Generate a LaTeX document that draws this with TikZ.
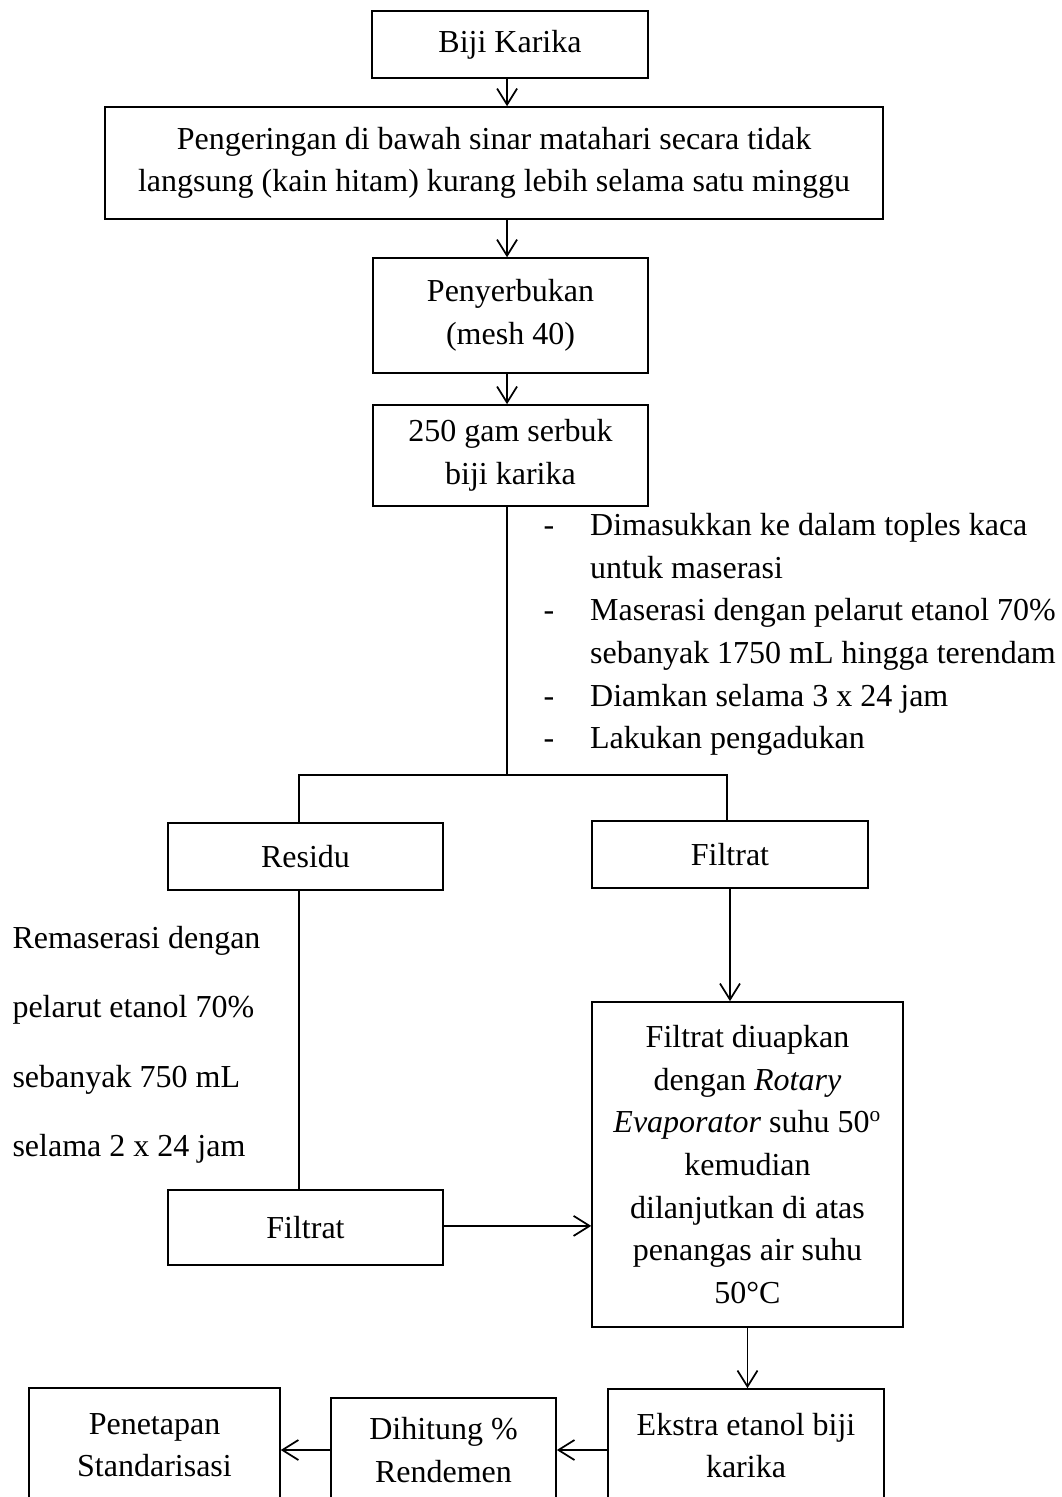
\documentclass[tikz,border=0pt]{standalone}
\usepackage{fontspec}
\setmainfont{Liberation Serif}
\usetikzlibrary{
  arrows.meta,
  positioning,
  calc
}
\tikzset{
blocktext/.style={
  align=center,
  font=\fontsize{12}{16}\selectfont
},
sidetext/.style={
  anchor=north west,
  inner sep=0pt
}
}

\begin{document}
\begin{tikzpicture}[
    % Satuan: 1 px gambar acuan
    x=0.375pt, y=-0.375pt,
    % Kotak proses
    blockbase/.style={
        rectangle,
        draw,
        line width=0.6pt,
        inner sep=2pt,
        blocktext
    },
    % Panah
    arrow/.style={
        -{Straight Barb[length=6pt,width=7.5pt]},
        line width=0.65pt
    },
    % Garis tanpa panah
    link/.style={
        line width=0.6pt
    },
]
\useasboundingbox (0,0) rectangle (1062,1497);
\clip (0,0) rectangle (1062,1497);

% ============================================================================
% Persiapan simplisia
% ============================================================================

\node[blockbase, minimum width=103.5pt, minimum height=25.1pt] (biji) at (510,44.5) {Biji Karika};

\node[blockbase, minimum width=291.75pt, minimum height=42pt] (pengeringan) at (494,163) {
    Pengeringan di bawah sinar matahari secara tidak\\
    langsung (kain hitam) kurang lebih selama satu minggu
};

\node[blockbase, minimum width=103.1pt, minimum height=43.1pt] (penyerbukan) at (510.5,315.5) {
    Penyerbukan\\
    (mesh 40)
};

\node[blockbase, minimum width=103.1pt, minimum height=37.9pt] (serbuk) at (510.5,455.5) {
    250 gam serbuk\\
    biji karika
};

% Keterangan maserasi
\node[sidetext, font=\fontsize{12}{16}\selectfont] (maserasi) at (543,505) {%
\begin{tabular}{@{}l@{\hspace{13.5pt}}l@{}}
- & Dimasukkan ke dalam toples kaca\\
  & untuk maserasi\\
- & Maserasi dengan pelarut etanol 70\%\\
  & sebanyak 1750 mL hingga terendam\\
- & Diamkan selama 3 x 24 jam\\
- & Lakukan pengadukan
\end{tabular}};

\coordinate (cabang) at (507,775);

% ============================================================================
% Residu dan filtrat
% ============================================================================

\node[blockbase, minimum width=103.1pt, minimum height=25.1pt] (residu) at (305.5,856.5) {Residu};

\node[blockbase, minimum width=103.5pt, minimum height=25.1pt] (filtrat) at (730,854.5) {Filtrat};

% Keterangan remaserasi
\node[sidetext, font=\fontsize{12}{26}\selectfont] (remaserasi) at (12,899.5) {%
\begin{tabular}{@{}l@{}}
Remaserasi dengan\\
pelarut etanol 70\%\\
sebanyak 750 mL\\
selama 2 x 24 jam
\end{tabular}};

\node[blockbase, minimum width=103.1pt, minimum height=28.1pt] (filtratdua) at (305.5,1227.5) {Filtrat};

\node[blockbase, minimum width=116.6pt, minimum height=121.9pt] (penguapan) at (747.5,1164.5) {
    Filtrat diuapkan\\
    dengan \textit{Rotary}\\
    \textit{Evaporator} suhu 50\textsuperscript{o}\\
    kemudian\\
    dilanjutkan di atas\\
    penangas air suhu\\
    50°C
};

% ============================================================================
% Hasil akhir
% ============================================================================

\node[blockbase, minimum width=103.5pt, minimum height=42.4pt] (ekstrak) at (746,1445.5) {
    Ekstra etanol biji\\
    karika
};

\node[blockbase, minimum width=84.4pt, minimum height=39pt] (rendemen) at (443.5,1450) {
    Dihitung \%\\
    Rendemen
};

\node[blockbase, minimum width=94.1pt, minimum height=42.75pt] (standarisasi) at (154.5,1445) {
    Penetapan\\
    Standarisasi
};

% ============================================================================
% Garis dan panah
% ============================================================================

\draw[arrow] ([xshift=-1.1pt]biji.south) -- ([xshift=-1.1pt]biji.south |- pengeringan.north);
\draw[arrow] ([xshift=-1.3pt]penyerbukan.north |- pengeringan.south) -- ([xshift=-1.3pt]penyerbukan.north);
\draw[arrow] ([xshift=-1.3pt]penyerbukan.south) -- ([xshift=-1.3pt]serbuk.north);

% Percabangan hasil maserasi
\draw[link] (serbuk.south -| cabang) -- (cabang);
\draw[link] ([xshift=-2.4pt]residu.north) -- ([xshift=-2.4pt]residu.north |- cabang) -- ([xshift=-1.1pt]filtrat.north |- cabang) -- ([xshift=-1.1pt]filtrat.north);

\draw[link] ([xshift=-2.4pt]residu.south) -- ([xshift=-2.4pt]filtratdua.north);
\draw[arrow] (filtrat.south) -- (filtrat.south |- penguapan.north);
\draw[arrow] ([yshift=0.6pt]filtratdua.east) -- ([yshift=0.6pt]filtratdua.east -| penguapan.west);
\draw[arrow] (penguapan.south) -- (penguapan.south |- ekstrak.north);

\draw[arrow] (rendemen.east -| ekstrak.west) -- (rendemen.east);
\draw[arrow] (rendemen.west) -- (rendemen.west -| standarisasi.east);

\end{tikzpicture}
\end{document}
